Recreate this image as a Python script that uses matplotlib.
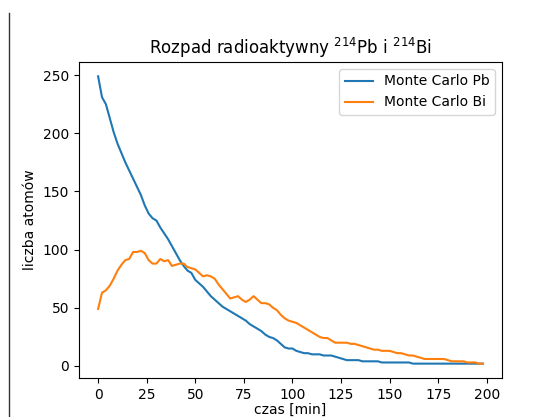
import numpy as np
import matplotlib
matplotlib.use("Agg")
import matplotlib.pyplot as plt
from matplotlib.lines import Line2D

# czas symulacji [min]
czas = np.arange(0, 200, 2)

pb = [249, 231, 225, 213, 201, 191, 183, 175, 168, 161,
      154, 147, 138, 131, 127, 125, 119, 114, 109, 103,
      97, 91, 86, 82, 80, 74, 71, 68, 64, 60,
      57, 54, 51, 49, 47, 45, 43, 41, 39, 36,
      34, 32, 30, 27, 25, 24, 22, 19, 16, 15,
      15, 13, 12, 11, 11, 10, 10, 10, 9, 9,
      9, 8, 7, 6, 5, 5, 5, 5, 4, 4,
      4, 4, 4, 3, 3, 3, 3, 3, 3, 3,
      3, 2, 2, 2, 2, 2, 2, 2, 2, 2,
      2, 2, 2, 2, 2, 2, 2, 2, 2, 2]

bi = [49, 63, 65, 69, 75, 82, 87, 91, 92, 98,
      98, 99, 97, 91, 88, 88, 92, 90, 91, 86,
      87, 88, 88, 85, 84, 83, 80, 77, 78, 77,
      75, 70, 66, 62, 58, 59, 60, 57, 55, 57,
      60, 57, 54, 54, 53, 50, 48, 44, 41, 39,
      38, 37, 35, 33, 31, 29, 27, 25, 24, 24,
      22, 20, 20, 20, 20, 19, 19, 18, 17, 16,
      15, 14, 14, 13, 13, 13, 12, 11, 11, 10,
      9, 9, 8, 7, 6, 6, 6, 6, 6, 6,
      5, 4, 4, 4, 4, 3, 3, 3, 2, 2]

fig = plt.figure(figsize=(5.44, 4.17), dpi=100)
ax = fig.add_axes([0.145, 0.0935, 0.778, 0.758])

ax.plot(czas, pb, label='Monte Carlo Pb')
ax.plot(czas, bi, label='Monte Carlo Bi')
ax.set_xlabel('czas [min]', labelpad=1)
ax.set_ylabel('liczba atomów')
ax.set_title(r'Rozpad radioaktywny $^{214}$Pb i $^{214}$Bi')
ax.legend(loc='upper right')

# pionowa linia z lewej strony (ramka komórki)
fig.add_artist(Line2D([0.0165, 0.0165], [0.0, 0.969], color='#333333', lw=1.0))

fig.savefig('out.png', dpi=100)
